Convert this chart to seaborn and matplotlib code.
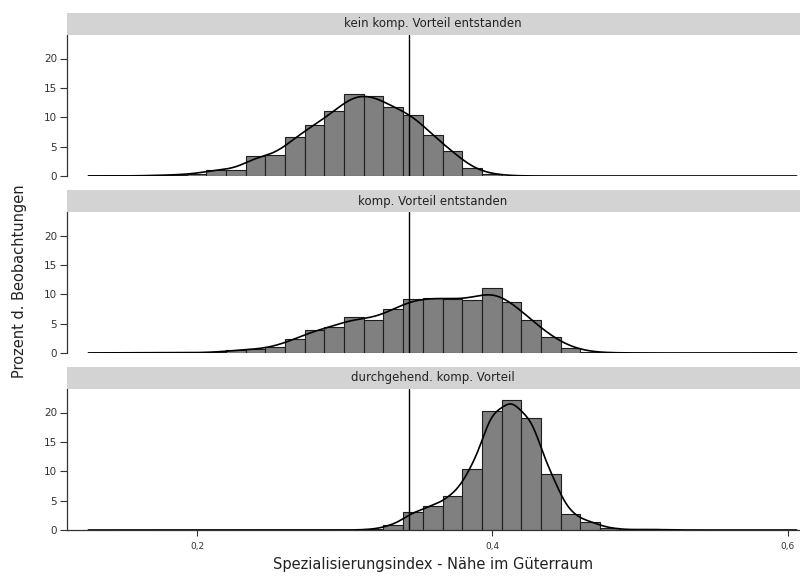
import numpy as np
import pandas as pd
import matplotlib
matplotlib.use("Agg")
import matplotlib.pyplot as plt
import seaborn as sns

# ---------------- data ----------------
bin_start = 0.1262
bin_width = 0.01333
n_bins = 36

panel_titles = [
    "kein komp. Vorteil entstanden",
    "komp. Vorteil entstanden",
    "durchgehend. komp. Vorteil",
]

# percent of observations per bin (36 bins each)
pct_kein = [0.05, 0.0, 0.03, 0.1, 0.2, 0.4, 1.1, 1.1, 3.4, 3.5, 6.6, 8.7,
            11.0, 14.0, 13.7, 11.7, 10.4, 6.9, 4.2, 1.3, 0.3, 0.05,
            0, 0, 0, 0, 0, 0, 0, 0, 0, 0, 0, 0, 0, 0]
pct_entstanden = [0.03, 0.0, 0.02, 0.05, 0.05, 0.05, 0.1, 0.5, 0.6, 1.0, 2.4, 3.9,
                  4.5, 6.1, 5.6, 7.5, 9.2, 9.35, 9.25, 9.0, 11.1, 8.7,
                  5.7, 2.8, 0.9, 0.15, 0.03, 0.02, 0, 0, 0, 0, 0, 0, 0.04, 0.04]
pct_durchgehend = [0, 0, 0, 0, 0, 0, 0, 0, 0, 0, 0, 0, 0, 0,
                   0.12, 0.85, 3.0, 4.15, 5.8, 10.4, 20.2, 22.1, 19.1, 9.45,
                   2.7, 1.4, 0.3, 0.05, 0.1, 0.03, 0, 0, 0, 0, 0, 0]
panel_values = [pct_kein, pct_entstanden, pct_durchgehend]

# kernel bandwidths (absolute, in x units) per panel
kde_bandwidth = [0.0095, 0.011, 0.0075]

reference_line = 0.3435
x_ticks = [0.2, 0.4, 0.6]
x_tick_labels = ["0,2", "0,4", "0,6"]
y_ticks = [0, 5, 10, 15, 20]
y_tick_labels = ["0", "5", "10", "15", "20"]

x_label = "Spezialisierungsindex - Nähe im Güterraum"
y_label = "Prozent d. Beobachtungen"

# ---------------- figure ----------------
sns.set_style("white")
plt.rcParams["font.family"] = ["DejaVu Sans"]

W_PX, H_PX = 800, 578
fig = plt.figure(figsize=(W_PX / 100, H_PX / 100), dpi=100)

edges = bin_start + bin_width * np.arange(n_bins + 1)
centers = edges[:-1] + bin_width / 2

left_px, right_px = 67, 799
axes_px = [(35, 176), (212, 353), (389, 530)]
strip_h = 22
xlim = (0.1117, 0.6077)

for i, (title, vals) in enumerate(zip(panel_titles, panel_values)):
    top, bot = axes_px[i]
    ax = fig.add_axes([left_px / W_PX, 1 - bot / H_PX,
                       (right_px - left_px) / W_PX, (bot - top) / H_PX])
    df = pd.DataFrame({"x": centers, "pct": vals})
    vals_arr = np.asarray(vals, dtype=float)
    sd = np.sqrt(np.cov(centers, aweights=np.where(vals_arr > 0, vals_arr, 1e-12)))
    bw_factor = kde_bandwidth[i] / sd
    sns.histplot(data=df, x="x", weights="pct", bins=list(edges), stat="count",
                 color="#808080", edgecolor="#1e1e1e", linewidth=0.8, alpha=1,
                 kde=True,
                 kde_kws=dict(bw_method=bw_factor, cut=100,
                              clip=(edges[0], edges[-1]), gridsize=600),
                 line_kws=dict(linewidth=1.2),
                 ax=ax)
    for ln in ax.lines:
        ln.set_color("black")
    ax.axvline(reference_line, color="black", linewidth=1.0)

    ax.set_xlim(*xlim)
    ax.set_ylim(0, 24)
    ax.set_yticks(y_ticks)
    ax.set_yticklabels(y_tick_labels)
    ax.set_xlabel("")
    ax.set_ylabel("")
    for s in ["top", "right"]:
        ax.spines[s].set_visible(False)
    ax.spines["left"].set_color("#333333")
    ax.spines["left"].set_linewidth(0.9)
    ax.tick_params(axis="y", left=True, direction="out", length=5, width=0.8,
                   colors="#333333", labelsize=7.5, pad=2)
    if i < 2:
        ax.spines["bottom"].set_visible(False)
        ax.set_xticks([])
    else:
        ax.spines["bottom"].set_color("#333333")
        ax.spines["bottom"].set_linewidth(0.9)
        ax.set_xticks(x_ticks)
        ax.set_xticklabels(x_tick_labels)
        ax.tick_params(axis="x", bottom=True, direction="out", length=4,
                       width=0.8, colors="#333333", labelsize=6.5, pad=5)

    # strip
    sax = fig.add_axes([left_px / W_PX, 1 - top / H_PX,
                        (W_PX - left_px) / W_PX, strip_h / H_PX])
    sax.set_facecolor("#d3d3d3")
    sax.set_xticks([])
    sax.set_yticks([])
    for s in sax.spines.values():
        s.set_visible(False)
    sax.text(0.5 * (right_px - left_px) / (W_PX - left_px), 0.5, title,
             ha="center", va="center", fontsize=8.5, color="#222222",
             transform=sax.transAxes)

fig.text((left_px + right_px) / 2 / W_PX, 1 - 565 / H_PX, x_label,
         ha="center", va="center", fontsize=10.5, color="#222222")
fig.text(20 / W_PX, 1 - 281 / H_PX, y_label, rotation=90,
         ha="center", va="center", fontsize=10.5, color="#222222")

fig.savefig("out.png", dpi=100)
